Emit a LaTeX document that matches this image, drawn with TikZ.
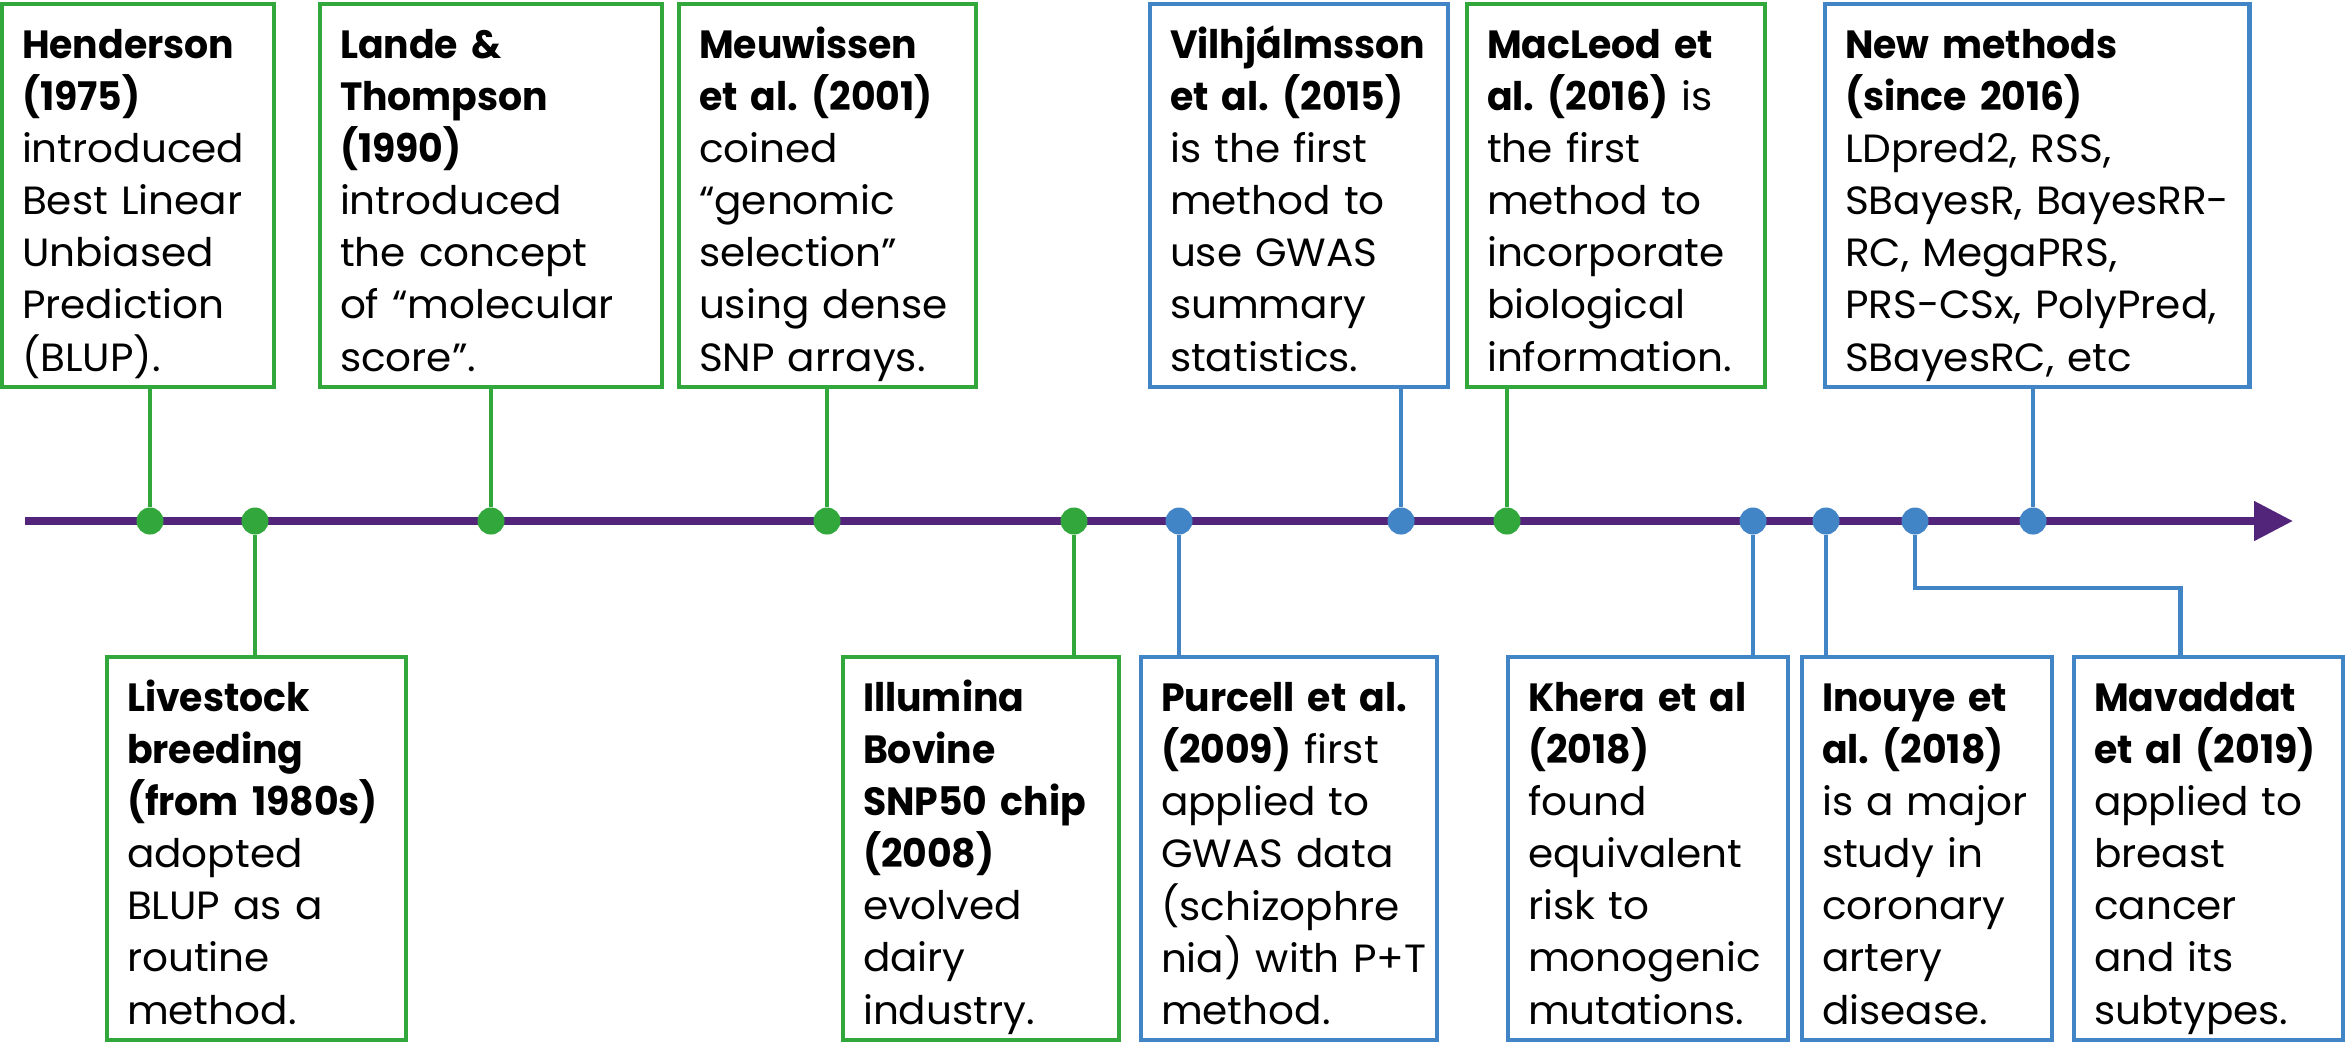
\documentclass[tikz,border=0pt]{standalone}
\usepackage{fontspec}
\setmainfont{Poppins}[UprightFeatures={FakeStretch=1.03}, BoldFeatures={FakeStretch=0.96}]
\usetikzlibrary{arrows.meta}
\definecolor{evgreen}{RGB}{50,168,60}
\definecolor{evblue}{RGB}{66,133,198}
\definecolor{axispurple}{RGB}{82,36,122}
\frenchspacing
\newcommand{\boxlines}[1]{\parbox[c][3.83cm][t]{\hsize}{\vspace*{5.2pt}\begin{tabular}{@{}l@{}}#1\end{tabular}}}
\begin{document}
\begin{tikzpicture}[x=0.01cm, y=-0.01cm,
  evbox/.style={draw=#1, line width=0.045cm, anchor=north west, outer sep=0pt, inner xsep=0.2cm, inner ysep=0pt,
    minimum height=3.83cm, align=left, font=\fontsize{11.2}{14.8}\selectfont},
  evdot/.style={circle, fill=#1, inner sep=0pt, minimum size=0.27cm},
  evline/.style={draw=#1, line width=0.045cm}]
\useasboundingbox (0,0) rectangle (2346,1041);
\coordinate (t0) at (25,521);
\coordinate (t1) at (2293,521);
\draw[axispurple, line width=0.08cm, -{Triangle[length=0.39cm,width=0.38cm]}] (t0) -- (t1);
\node[evbox=evgreen, text width=2.32cm] (hend) at (2,4) {\boxlines{\textbf{Henderson}\\\textbf{(1975)}\\introduced\\Best Linear\\Unbiased\\Prediction\\(BLUP).}};
\node[evbox=evgreen, text width=3.02cm] (lande) at (320,4) {\boxlines{\textbf{Lande \&}\\\textbf{Thompson}\\\textbf{(1990)}\\introduced\\the concept\\of “molecular\\score”.}};
\node[evbox=evgreen, text width=2.57cm] (meuw) at (679,4) {\boxlines{\textbf{Meuwissen}\\\textbf{et al. (2001)}\\coined\\“genomic\\selection”\\using dense\\SNP arrays.}};
\node[evbox=evblue, text width=2.58cm] (vilh) at (1150,4) {\boxlines{\textbf{Vilhjálmsson}\\\textbf{et al. (2015)}\\is the first\\method to\\use GWAS\\summary\\statistics.}};
\node[evbox=evgreen, text width=2.58cm] (macl) at (1467,4) {\boxlines{\textbf{MacLeod et}\\\textbf{al. (2016)} is\\the first\\method to\\incorporate\\biological\\information.}};
\node[evbox=evblue, text width=3.84cm] (newm) at (1825,4) {\boxlines{\textbf{New methods}\\\textbf{(since 2016)}\\LDpred2, RSS,\\SBayesR, BayesRR-\\RC, MegaPRS,\\PRS-CSx, PolyPred,\\SBayesRC, etc}};
\node[evbox=evgreen, text width=2.59cm] (live) at (107,657) {\boxlines{\textbf{Livestock}\\\textbf{breeding}\\\textbf{(from 1980s)}\\adopted\\BLUP as a\\routine\\method.}};
\node[evbox=evgreen, text width=2.36cm] (illu) at (843,657) {\boxlines{\textbf{Illumina}\\\textbf{Bovine}\\\textbf{SNP50 chip}\\\textbf{(2008)}\\evolved\\dairy\\industry.}};
\node[evbox=evblue, text width=2.56cm] (purc) at (1141,657) {\boxlines{\textbf{Purcell et al.}\\\textbf{(2009)} first\\applied to\\GWAS data\\(schizophre\\nia) with P+T\\method.}};
\node[evbox=evblue, text width=2.40cm] (khera) at (1508,657) {\boxlines{\textbf{Khera et al}\\\textbf{(2018)}\\found\\equivalent\\risk to\\monogenic\\mutations.}};
\node[evbox=evblue, text width=2.10cm] (inou) at (1802,657) {\boxlines{\textbf{Inouye et}\\\textbf{al. (2018)}\\is a major\\study in\\coronary\\artery\\disease.}};
\node[evbox=evblue, text width=2.29cm] (mava) at (2074,657) {\boxlines{\textbf{Mavaddat}\\\textbf{et al (2019)}\\applied to\\breast\\cancer\\and its\\subtypes.}};
\node[evdot=evgreen] (d1) at (150,521) {};
\node[evdot=evgreen] (d2) at (255,521) {};
\node[evdot=evgreen] (d3) at (491,521) {};
\node[evdot=evgreen] (d4) at (827,521) {};
\node[evdot=evgreen] (d5) at (1074,521) {};
\node[evdot=evblue] (d6) at (1179,521) {};
\node[evdot=evblue] (d7) at (1401,521) {};
\node[evdot=evgreen] (d8) at (1507,521) {};
\node[evdot=evblue] (d9) at (1753,521) {};
\node[evdot=evblue] (d10) at (1826,521) {};
\node[evdot=evblue] (d11) at (1915,521) {};
\node[evdot=evblue] (d12) at (2033,521) {};
\draw[evline=evgreen] (d1) -- (d1 |- hend.south);
\draw[evline=evgreen] (d3) -- (d3 |- lande.south);
\draw[evline=evgreen] (d4) -- (d4 |- meuw.south);
\draw[evline=evblue] (d7) -- (d7 |- vilh.south);
\draw[evline=evgreen] (d8) -- (d8 |- macl.south);
\draw[evline=evblue] (d12) -- (d12 |- newm.south);
\draw[evline=evgreen] (d2) -- (d2 |- live.north);
\draw[evline=evgreen] (d5) -- (d5 |- illu.north);
\draw[evline=evblue] (d6) -- (d6 |- purc.north);
\draw[evline=evblue] (d9) -- (d9 |- khera.north);
\draw[evline=evblue] (d10) -- (d10 |- inou.north);
\draw[evline=evblue] (d11) |- ([xshift=-0.28cm, yshift=0.69cm]mava.north) -- ([xshift=-0.28cm]mava.north);
\end{tikzpicture}
\end{document}
